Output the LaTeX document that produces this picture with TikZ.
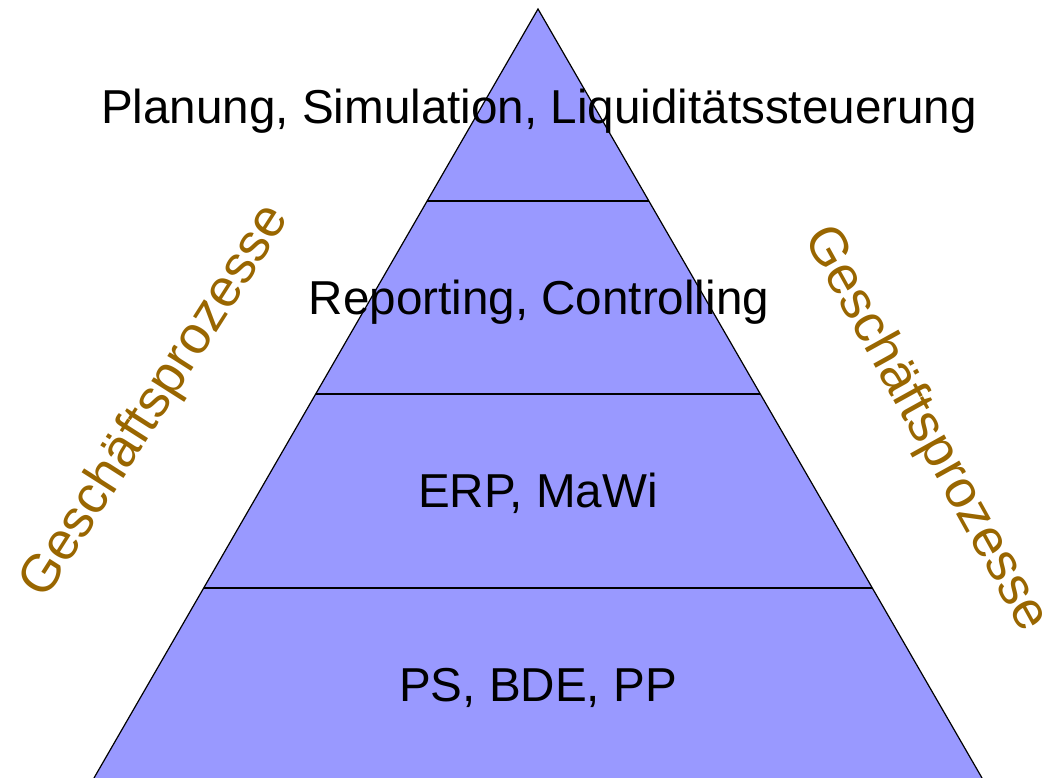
\documentclass[tikz,border=0pt]{standalone}
\usepackage{fontspec}
\setmainfont{Liberation Sans}
\definecolor{pyrfill}{HTML}{9999FF}
\definecolor{procbrown}{HTML}{996600}
\begin{document}
\begin{tikzpicture}[x=1pt,y=1pt,
  edge/.style={draw=black,line width=1.2pt},
  level/.style={anchor=base,inner sep=0pt,font=\fontsize{47.6}{56}\selectfont},
  proc/.style={inner sep=0pt,text=procbrown,font=\fontsize{53}{62}\selectfont}]
\useasboundingbox (0,0) rectangle (1054,778);
\coordinate (apex) at (538,769);
\coordinate (bl) at (94,0);
\coordinate (br) at (982,0);
\coordinate (l1) at (427.1,577);
\coordinate (r1) at (648.9,577);
\coordinate (l2) at (315.7,384);
\coordinate (r2) at (760.3,384);
\coordinate (l3) at (203.7,190);
\coordinate (r3) at (872.3,190);
\fill[pyrfill] (apex) -- (br) -- (bl) -- cycle;
\draw[edge] (bl) -- (apex) -- (br);
\draw[edge] (l1) -- (r1);
\draw[edge] (l2) -- (r2);
\draw[edge] (l3) -- (r3);
\node[level] (t1) at (539,654.7) {Planung, Simulation, Liquiditätssteuerung};
\node[level] (t2) at (539,463) {Reporting, Controlling};
\node[level] (t3) at (538,270.3) {ERP, MaWi};
\node[level] (t4) at (538,76.3) {PS, BDE, PP};
\node[proc,rotate=57.5] (gl) at (156,376) {Geschäftsprozesse};
\node[proc,rotate=-61] (gr) at (925,349) {Geschäftsprozesse};
\end{tikzpicture}
\end{document}
